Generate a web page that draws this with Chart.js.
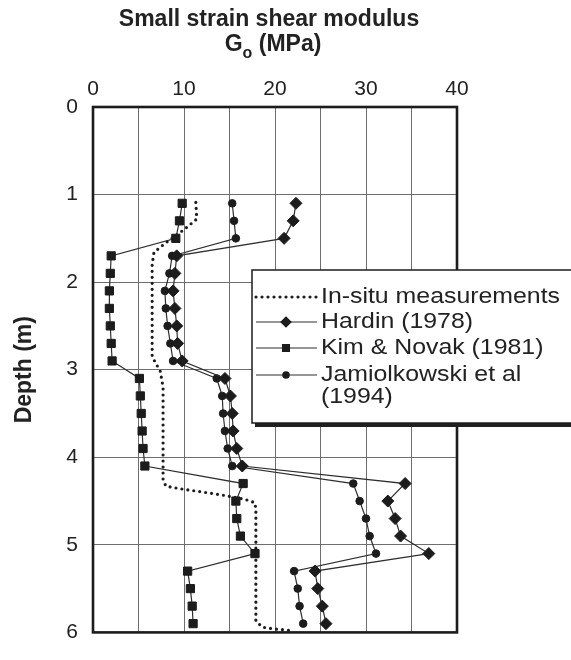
<!DOCTYPE html>
<html>
<head>
<meta charset="utf-8">
<title>Small strain shear modulus vs depth</title>
<script src="https://cdn.jsdelivr.net/npm/chart.js@4.4.1/dist/chart.umd.min.js"></script>
<style>
  html, body { margin: 0; padding: 0; background: #ffffff; }
  #wrap { width: 571px; height: 660px; position: relative; }
</style>
</head>
<body>
<div id="wrap"><canvas id="chart" width="571" height="660"></canvas></div>
<script>
// Depths (m) of the profile points used by the three correlations
const depthSamples = [1.1, 1.3, 1.5, 1.7, 1.9, 2.1, 2.3, 2.5, 2.7, 2.9,
                      3.1, 3.3, 3.5, 3.7, 3.9, 4.1, 4.3, 4.5, 4.7, 4.9,
                      5.1, 5.3, 5.5, 5.7, 5.9];

// Go (MPa) estimated by each correlation at those depths
const hardin       = [22.3, 22.0, 21.0, 9.2, 9.0, 8.8, 9.0, 9.2, 9.3, 9.8,
                      14.5, 15.1, 15.3, 15.4, 15.8, 16.4, 34.3, 32.4, 33.2, 33.8,
                      36.9, 24.4, 24.7, 25.2, 25.6];
const kimNovak     = [9.8, 9.5, 9.1, 2.0, 1.9, 1.8, 1.8, 1.9, 2.0, 2.1,
                      5.1, 5.2, 5.3, 5.4, 5.5, 5.7, 16.5, 15.7, 15.8, 16.2,
                      17.8, 10.4, 10.7, 10.9, 11.0];
const jamiolkowski = [15.3, 15.5, 15.7, 8.7, 8.4, 7.9, 8.0, 8.2, 8.5, 8.8,
                      13.6, 14.2, 14.3, 14.5, 14.8, 15.3, 28.6, 29.3, 30.0, 30.4,
                      31.1, 22.1, 22.5, 22.7, 23.1];

// In-situ measured profile
const insituDepth = [1.09, 1.28, 1.40, 1.55, 1.66, 1.80, 2.85, 3.02, 3.20, 4.25,
                     4.33, 4.36, 4.41, 4.44, 4.48, 4.52, 4.60, 5.87, 5.94, 5.96, 5.98];
const insituG     = [11.3, 11.4, 10.0, 8.0, 6.7, 6.5, 6.5, 7.4, 7.7, 7.7,
                     8.0, 9.6, 12.9, 14.7, 16.7, 17.8, 17.9, 17.9, 18.6, 19.8, 22.0];

// Axis ticks
const xTickLabels = [0, 10, 20, 30, 40];
const yTickLabels = [0, 1, 2, 3, 4, 5, 6];

const FONT = '"Liberation Sans", Arial, Helvetica, sans-serif';
const INK = '#1c1c1c';
const LINE = '#2e2e2e';

const toPoints = (xs, ys) => xs.map((v, i) => ({ x: v, y: ys[i] }));

// Thick frame around the plotting area
const framePlugin = {
  id: 'frame',
  beforeDatasetsDraw(chart) {
    const { ctx, chartArea: a } = chart;
    ctx.save();
    ctx.strokeStyle = INK;
    ctx.lineWidth = 2.6;
    ctx.strokeRect(a.left, a.top, a.right - a.left, a.bottom - a.top);
    ctx.restore();
  }
};

// Two-line heading with subscripted "o"
const headingPlugin = {
  id: 'heading',
  afterDraw(chart) {
    const ctx = chart.ctx;
    ctx.save();
    ctx.fillStyle = '#222';
    ctx.textBaseline = 'alphabetic';
    ctx.font = 'bold 23px ' + FONT;
    ctx.textAlign = 'center';
    ctx.fillText('Small strain shear modulus', 269, 26);

    const big = 'bold 23px ' + FONT, small = 'bold 16px ' + FONT;
    ctx.font = big;  const wG = ctx.measureText('G').width;
    ctx.font = small; const wo = ctx.measureText('o').width;
    ctx.font = big;  const wRest = ctx.measureText(' (MPa)').width;
    let x = 273 - (wG + wo + wRest) / 2;
    ctx.textAlign = 'left';
    ctx.font = big;   ctx.fillText('G', x, 51); x += wG;
    ctx.font = small; ctx.fillText('o', x, 58); x += wo;
    ctx.font = big;   ctx.fillText(' (MPa)', x, 51);
    ctx.restore();
  }
};

// Boxed legend with drop shadow, drawn from the dataset styles
const legendBoxPlugin = {
  id: 'legendBox',
  afterDraw(chart) {
    const ctx = chart.ctx;
    const bx = 252, by = 270, bw = 330, bh = 153;
    ctx.save();
    ctx.fillStyle = '#202020';
    ctx.fillRect(bx + 3, by + 4, bw, bh);
    ctx.fillStyle = '#ffffff';
    ctx.fillRect(bx, by, bw, bh);
    ctx.strokeStyle = INK;
    ctx.lineWidth = 1.5;
    ctx.strokeRect(bx, by, bw, bh);

    const rows = [297, 322, 348, 375];
    const x0 = 256, x1 = 317, xm = 286;
    ctx.font = '22px ' + FONT;
    ctx.textBaseline = 'middle';
    chart.data.datasets.forEach((ds, i) => {
      const y = rows[i];
      ctx.save();
      ctx.strokeStyle = ds.borderColor;
      ctx.lineWidth = ds.borderWidth;
      ctx.lineCap = ds.borderCapStyle || 'butt';
      ctx.setLineDash(ds.borderDash || []);
      ctx.beginPath();
      ctx.moveTo(x0, y);
      ctx.lineTo(x1, y);
      ctx.stroke();
      ctx.restore();
      if (ds.pointRadius > 0) {
        ctx.fillStyle = ds.pointBackgroundColor;
        ctx.strokeStyle = ds.pointBorderColor;
        Chart.helpers.drawPoint(ctx, {
          pointStyle: ds.pointStyle, radius: ds.pointRadius * 0.8,
          rotation: 0, borderWidth: 1
        }, xm, y);
      }
      // legend lettering is set slightly wide
      ctx.fillStyle = '#222';
      ctx.textAlign = 'left';
      const lines = String(ds.label).split('\n');
      lines.forEach((t, k) => {
        ctx.save();
        ctx.translate(321, y + k * 22);
        ctx.scale(1.13, 1);
        ctx.fillText(t, 0, 0);
        ctx.restore();
      });
    });
    ctx.restore();
  }
};

new Chart(document.getElementById('chart'), {
  type: 'scatter',
  data: {
    datasets: [
      {
        label: 'In-situ measurements',
        data: toPoints(insituG, insituDepth),
        showLine: true,
        borderColor: INK,
        borderWidth: 3.2,
        borderDash: [0, 6],
        borderCapStyle: 'round',
        pointRadius: 0,
        pointBackgroundColor: INK,
        pointBorderColor: INK
      },
      {
        label: 'Hardin (1978)',
        data: toPoints(hardin, depthSamples),
        showLine: true,
        borderColor: LINE,
        borderWidth: 1.2,
        pointStyle: 'rectRot',
        pointRadius: 6,
        pointBackgroundColor: INK,
        pointBorderColor: INK,
        pointBorderWidth: 1
      },
      {
        label: 'Kim & Novak (1981)',
        data: toPoints(kimNovak, depthSamples),
        showLine: true,
        borderColor: LINE,
        borderWidth: 1.2,
        pointStyle: 'rect',
        pointRadius: 5.8,
        pointBackgroundColor: INK,
        pointBorderColor: INK,
        pointBorderWidth: 1
      },
      {
        label: 'Jamiolkowski et al\n(1994)',
        data: toPoints(jamiolkowski, depthSamples),
        showLine: true,
        borderColor: LINE,
        borderWidth: 1.2,
        pointStyle: 'circle',
        pointRadius: 3.8,
        pointBackgroundColor: INK,
        pointBorderColor: INK,
        pointBorderWidth: 1
      }
    ]
  },
  options: {
    responsive: false,
    animation: false,
    events: [],
    layout: { padding: { top: 0, left: 0, right: 114, bottom: 11 } },
    plugins: {
      legend: { display: false },
      tooltip: { enabled: false },
      title: { display: false }
    },
    scales: {
      x: {
        type: 'linear',
        position: 'top',
        min: 0,
        max: 40,
        afterBuildTicks(scale) {
          scale.ticks = [0, 5, 10, 15, 20, 25, 30, 35, 40].map(v => ({ value: v }));
        },
        ticks: {
          autoSkip: false,
          maxRotation: 0,
          padding: 5,
          color: '#222',
          font: { family: FONT, size: 21 },
          callback: v => (xTickLabels.includes(v) ? String(v) : '')
        },
        grid: { color: '#6e6e6e', lineWidth: 1, drawTicks: false },
        border: { display: false },
        afterFit(scale) { scale.height = 107; }
      },
      y: {
        type: 'linear',
        reverse: true,
        min: 0,
        max: 6,
        afterBuildTicks(scale) {
          scale.ticks = yTickLabels.map(v => ({ value: v }));
        },
        ticks: {
          autoSkip: false,
          padding: 15,
          color: '#222',
          font: { family: FONT, size: 21 },
          callback: v => String(v)
        },
        grid: { color: '#6e6e6e', lineWidth: 1, drawTicks: false },
        border: { display: false },
        title: {
          display: true,
          text: 'Depth (m)',
          color: '#222',
          font: { family: FONT, size: 23, weight: 'bold' },
          padding: { top: 11, bottom: 0 }
        },
        afterFit(scale) { scale.width = 93; }
      }
    }
  },
  plugins: [framePlugin, headingPlugin, legendBoxPlugin]
});
</script>
</body>
</html>
